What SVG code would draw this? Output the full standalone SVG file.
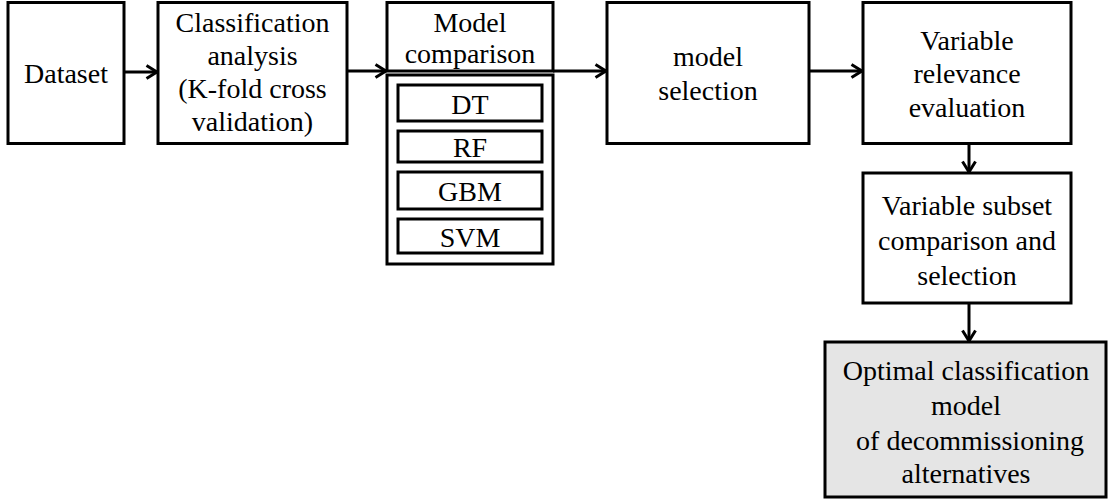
<svg xmlns="http://www.w3.org/2000/svg" width="1110" height="499" viewBox="0 0 1110 499">
<style>
.box{fill:#ffffff;stroke:#000000;stroke-width:3}
.grey{fill:#e5e5e5;stroke:#000000;stroke-width:3}
.t{font-family:"Liberation Serif","Times New Roman",serif;font-size:28px;fill:#000000;text-anchor:middle}
.c{fill:none;stroke:#000000;stroke-width:3}
</style>
<defs>
<marker id="arr" viewBox="0 0 14 16" markerWidth="14" markerHeight="16" markerUnits="userSpaceOnUse" refX="12" refY="8" orient="auto">
<path d="M1.5,1.5 L12,8 L1.5,14.5" fill="none" stroke="#000000" stroke-width="3"/>
</marker>
</defs>
<rect width="1110" height="499" fill="#ffffff"/>
<g id="connectors">
<path class="c" d="M124,72 H157" marker-end="url(#arr)"/>
<path class="c" d="M347,71 H386" marker-end="url(#arr)"/>
<path class="c" d="M553,71 H606" marker-end="url(#arr)"/>
<path class="c" d="M809,71 H862" marker-end="url(#arr)"/>
<path class="c" d="M969,143 V172" marker-end="url(#arr)"/>
<path class="c" d="M969,303 V341" marker-end="url(#arr)"/>
</g>
<g id="dataset">
<rect class="box" x="8" y="2.5" width="116" height="141"/>
<text class="t" x="66" y="83">Dataset</text>
</g>
<g id="classification">
<rect class="box" x="158" y="2.5" width="189" height="141"/>
<text class="t" x="252.5" y="32">Classification</text>
<text class="t" x="252.5" y="65">analysis</text>
<text class="t" x="252.5" y="98">(K-fold cross</text>
<text class="t" x="252.5" y="131">validation)</text>
</g>
<g id="model-comparison">
<rect class="box" x="387" y="2.5" width="166" height="68.5"/>
<text class="t" x="470" y="32">Model</text>
<text class="t" x="470" y="63">comparison</text>
<rect class="box" x="387" y="75" width="166" height="189"/>
</g>
<g id="dt">
<rect class="box" x="398" y="85" width="144" height="36"/>
<text class="t" x="470" y="114">DT</text>
</g>
<g id="rf">
<rect class="box" x="398" y="131" width="144" height="31"/>
<text class="t" x="470" y="157">RF</text>
</g>
<g id="gbm">
<rect class="box" x="398" y="172" width="144" height="37"/>
<text class="t" x="470" y="201">GBM</text>
</g>
<g id="svm">
<rect class="box" x="398" y="219" width="144" height="34"/>
<text class="t" x="470" y="247">SVM</text>
</g>
<g id="model-selection">
<rect class="box" x="607" y="2.5" width="202" height="141"/>
<text class="t" x="708" y="66">model</text>
<text class="t" x="708" y="100">selection</text>
</g>
<g id="variable-relevance">
<rect class="box" x="863" y="2.5" width="208" height="141"/>
<text class="t" x="967" y="50">Variable</text>
<text class="t" x="967" y="83">relevance</text>
<text class="t" x="967" y="117">evaluation</text>
</g>
<g id="variable-subset">
<rect class="box" x="863" y="173" width="208" height="130"/>
<text class="t" x="967" y="215">Variable subset</text>
<text class="t" x="967" y="250">comparison and</text>
<text class="t" x="967" y="285">selection</text>
</g>
<g id="optimal-model">
<rect class="grey" x="825" y="342" width="281" height="155"/>
<text class="t" x="966" y="380">Optimal classification</text>
<text class="t" x="966" y="415">model</text>
<text class="t" x="970" y="450">of decommissioning</text>
<text class="t" x="966" y="483">alternatives</text>
</g>
</svg>
